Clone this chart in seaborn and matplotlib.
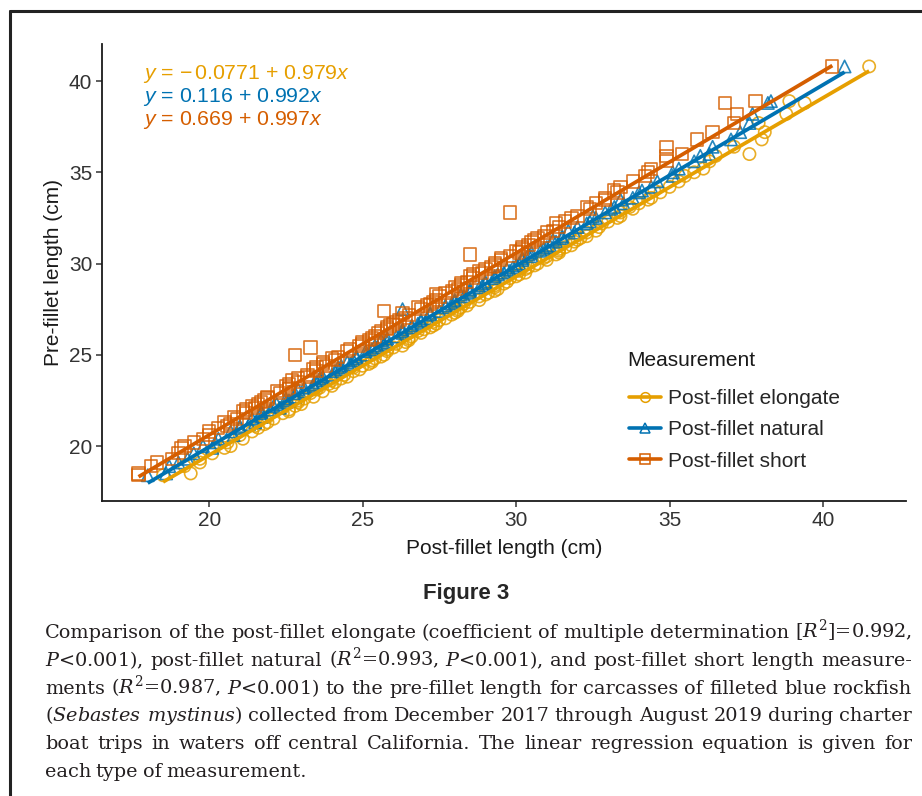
import matplotlib
matplotlib.use("Agg")
import matplotlib.pyplot as plt
import seaborn as sns
import numpy as np
from matplotlib.lines import Line2D

# pre-fillet length of each fish (cm) and its three post-fillet measurements
pre_fillet = [
    18.4, 18.5, 18.9, 19.3, 19.6, 19.9, 20.2, 20.4, 20.6, 20.8,
    21.0, 21.1, 21.3, 21.5, 21.6, 21.8, 22.0, 22.1, 22.3, 22.4,
    22.6, 22.7, 22.9, 23.0, 23.2, 23.3, 23.5, 23.6, 23.8, 23.9,
    24.1, 24.2, 24.4, 24.5, 24.7, 24.9, 25.0, 25.2, 25.4, 25.5,
    25.7, 25.9, 26.0, 26.2, 26.4, 26.5, 26.7, 26.9, 27.0, 27.2,
    27.4, 27.5, 27.7, 27.9, 28.0, 28.2, 28.4, 28.5, 28.7, 28.9,
    29.0, 29.2, 29.4, 29.5, 29.7, 29.9, 30.0, 30.2, 30.4, 30.5,
    30.7, 30.9, 31.0, 31.2, 31.5, 31.7, 32.0, 32.3, 32.5, 32.8,
    33.0, 33.3, 33.6, 33.9, 34.2, 34.5, 34.8, 35.2, 35.6, 36.0,
    36.4, 36.8, 37.2, 37.7, 38.2, 38.8, 38.9, 40.8,
    21.2, 21.9, 22.5, 23.1, 23.7, 24.3, 24.8, 25.3, 25.8, 26.3,
    26.8, 27.3, 27.8, 28.3, 28.8, 29.3, 29.8, 30.3, 30.8, 31.3,
    31.8, 32.2, 32.6, 33.1, 33.5, 34.0, 22.2, 23.4, 24.6, 25.6,
    26.6, 27.6, 28.6, 29.6, 30.6, 31.4, 20.0, 19.1, 35.0, 35.9,
]
post_elongate = [
    18.5, 19.4, 19.2, 19.7, 20.1, 20.5, 20.6, 21.1, 21.0, 21.4,
    21.6, 21.5, 21.9, 22.1, 21.9, 22.4, 22.6, 22.4, 23.0, 22.9,
    23.1, 23.4, 23.3, 23.7, 23.6, 24.0, 24.1, 24.0, 24.5, 24.4,
    24.7, 24.9, 25.0, 25.2, 25.3, 25.6, 25.7, 25.8, 26.0, 26.3,
    26.4, 26.5, 26.6, 26.9, 27.0, 27.2, 27.4, 27.5, 27.7, 27.9,
    28.1, 28.1, 28.4, 28.5, 28.8, 28.8, 29.1, 29.3, 29.3, 29.6,
    29.7, 29.8, 30.1, 30.3, 30.3, 30.6, 30.7, 31.0, 31.0, 31.3,
    31.4, 31.6, 31.8, 31.9, 32.3, 32.3, 32.7, 33.0, 33.3, 33.4,
    33.8, 34.0, 34.4, 34.7, 35.0, 35.3, 35.5, 36.1, 36.3, 37.6,
    37.1, 38.0, 38.1, 37.9, 38.8, 39.4, 38.9, 41.5,
    21.8, 22.6, 22.9, 23.5, 24.3, 24.7, 25.4, 25.8, 26.5, 26.8,
    27.3, 28.0, 28.3, 29.0, 29.3, 30.0, 30.4, 30.9, 31.4, 32.0,
    32.6, 32.8, 33.4, 33.7, 34.3, 34.5, 22.8, 23.9, 25.3, 26.1,
    27.3, 28.2, 29.4, 30.1, 31.4, 32.1, 20.7, 19.7, 35.8, 36.5,
]
post_natural = [
    18.0, 18.6, 18.7, 19.3, 19.5, 20.1, 20.2, 20.3, 20.8, 20.7,
    21.0, 21.0, 21.5, 21.4, 21.7, 21.7, 22.0, 22.3, 22.2, 22.5,
    22.5, 22.8, 22.8, 23.1, 23.1, 23.4, 23.5, 23.7, 23.7, 24.0,
    24.1, 24.3, 24.3, 24.6, 24.7, 24.8, 25.1, 25.1, 25.5, 25.4,
    25.8, 25.8, 26.1, 26.3, 26.3, 26.6, 26.8, 26.9, 27.1, 27.2,
    27.5, 26.3, 27.7, 28.0, 28.0, 28.3, 28.5, 28.5, 28.8, 29.0,
    29.0, 29.3, 29.4, 29.6, 29.7, 30.0, 30.1, 30.2, 30.5, 30.4,
    30.8, 31.0, 31.1, 31.3, 31.5, 31.9, 32.0, 32.4, 32.6, 32.9,
    33.1, 33.5, 33.8, 34.0, 34.4, 34.6, 35.1, 35.3, 35.8, 36.3,
    36.4, 37.0, 37.3, 37.6, 37.7, 38.2, 38.3, 40.7,
    21.3, 21.7, 22.6, 22.9, 23.6, 24.2, 24.8, 25.3, 25.6, 26.3,
    26.9, 27.2, 27.9, 28.2, 28.9, 29.3, 29.9, 30.2, 30.9, 31.2,
    31.7, 32.3, 32.5, 33.2, 33.4, 34.1, 22.1, 23.4, 24.5, 25.7,
    26.6, 27.7, 28.5, 29.8, 30.5, 31.5, 19.8, 19.0, 35.1, 36.0,
]
post_short = [
    17.7, 17.7, 18.1, 18.8, 19.0, 19.1, 19.5, 19.8, 20.0, 20.0,
    20.3, 20.6, 20.5, 20.9, 20.8, 21.2, 21.2, 21.5, 21.6, 21.7,
    21.9, 21.9, 22.3, 22.2, 22.6, 22.5, 22.9, 22.7, 23.2, 23.2,
    23.5, 23.4, 23.8, 23.7, 24.1, 24.2, 22.8, 24.5, 23.3, 24.9,
    25.0, 25.3, 25.4, 25.5, 25.8, 25.8, 26.0, 26.2, 26.4, 26.5,
    25.7, 26.9, 27.1, 27.3, 27.4, 27.5, 27.7, 27.9, 28.0, 28.2,
    28.4, 28.6, 28.6, 28.9, 29.0, 29.3, 29.3, 29.5, 29.8, 28.5,
    30.0, 30.2, 30.4, 30.5, 30.9, 31.0, 31.4, 31.6, 31.8, 29.8,
    32.4, 32.6, 32.9, 33.3, 33.4, 33.8, 34.2, 34.4, 34.9, 35.4,
    34.9, 35.9, 36.4, 37.1, 37.2, 36.8, 37.8, 40.3,
    20.7, 21.1, 21.8, 22.6, 22.9, 23.5, 24.0, 24.6, 25.2, 25.6,
    26.1, 26.3, 27.2, 27.4, 28.2, 28.5, 29.2, 29.5, 30.2, 30.6,
    31.2, 31.3, 32.0, 32.3, 32.9, 33.2, 21.4, 22.6, 23.7, 25.0,
    25.9, 26.8, 28.1, 28.8, 30.1, 30.7, 19.2, 18.3, 34.3, 34.9,
]

series_names = ["Post-fillet elongate", "Post-fillet natural", "Post-fillet short"]
series_colors = ["#E69F00", "#0072B2", "#D55E00"]
series_markers = ["o", "^", "s"]
intercepts = [-0.0771, 0.116, 0.669]
slopes = [0.979, 0.992, 0.997]
eq_labels = [r"$y$ = $-\,$0.0771 + 0.979$x$",
             r"$y$ = 0.116 + 0.992$x$",
             r"$y$ = 0.669 + 0.997$x$"]

caption_lines = [
    r"Comparison of the post-fillet elongate (coefficient of multiple determination [$R^2$]=0.992,",
    r"$P$<0.001), post-fillet natural ($R^2$=0.993, $P$<0.001), and post-fillet short length measure-",
    r"ments ($R^2$=0.987, $P$<0.001) to the pre-fillet length for carcasses of filleted blue rockfish",
    r"($\mathit{Sebastes}$ $\mathit{mystinus}$) collected from December 2017 through August 2019 during charter",
    r"boat trips in waters off central California. The linear regression equation is given for",
    r"each type of measurement.",
]

sns.set_theme(style="ticks")
plt.rcParams["font.family"] = ["Liberation Sans", "DejaVu Sans"]
plt.rcParams["mathtext.fontset"] = "custom"
plt.rcParams["mathtext.rm"] = "Liberation Sans"
plt.rcParams["mathtext.it"] = "Liberation Sans:italic"

W, H = 922, 796
fig = plt.figure(figsize=(W / 100, H / 100), dpi=100)
ax = fig.add_axes([102 / W, 1 - 501 / H, 804 / W, 457 / H])

xs_all = [post_elongate, post_natural, post_short]
for xs, name, col, mk in zip(xs_all, series_names, series_colors, series_markers):
    sns.scatterplot(x=xs, y=pre_fillet, marker=mk, s=78, facecolors="none",
                    edgecolor=col, linewidth=1.2, alpha=0.85, ax=ax, zorder=2)

for xs, col, b0, b1 in zip(xs_all, series_colors, intercepts, slopes):
    xr = np.array([min(xs), max(xs)])
    ax.plot(xr, b0 + b1 * xr, color=col, lw=2.7, solid_capstyle="butt", zorder=3)

ax.set_xlim(16.51, 42.70)
ax.set_ylim(16.99, 42.03)
ax.set_xticks([20, 25, 30, 35, 40])
ax.set_yticks([20, 25, 30, 35, 40])
ax.set_xlabel("Post-fillet length (cm)", fontsize=15, color="#1a1a1a", labelpad=7)
ax.set_ylabel("Pre-fillet length (cm)", fontsize=15, color="#1a1a1a", labelpad=4)
ax.tick_params(labelsize=15, colors="#333333", length=4, width=1.1, pad=3)
sns.despine(ax=ax)
for side in ["left", "bottom"]:
    ax.spines[side].set_linewidth(1.3)
    ax.spines[side].set_color("#1a1a1a")

for i, (lab, col) in enumerate(zip(eq_labels, series_colors)):
    ax.text(0.051, 0.934 - i * 0.0503, lab, color=col, fontsize=15.3,
            transform=ax.transAxes, va="center", ha="left")

# legend: title placed on its own, entries below it
ax.text((627 - 102) / 804, (501 - 361) / 457, "Measurement", fontsize=15,
        color="#1a1a1a", transform=ax.transAxes, va="center", ha="left")
handles = [Line2D([], [], color=c, lw=2.6, marker=m, markersize=7,
                  markerfacecolor="none", markeredgecolor=c, markeredgewidth=1.1)
           for c, m in zip(series_colors, series_markers)]
leg = ax.legend(handles, series_names, loc="upper left",
                bbox_to_anchor=(0.656, 0.245), frameon=False, fontsize=15,
                handlelength=1.5, handletextpad=0.35,
                labelspacing=0.59, borderaxespad=0, borderpad=0)

# figure frame (left and top rules)
fig.add_artist(Line2D([10 / W, 10 / W], [0, 1 - 11 / H], transform=fig.transFigure,
                      color="#222222", lw=2.2))
fig.add_artist(Line2D([10 / W, 1], [1 - 11 / H, 1 - 11 / H], transform=fig.transFigure,
                      color="#222222", lw=2.2))

fig.text(466 / W, 1 - 594 / H, "Figure 3", fontsize=16, fontweight="bold",
         ha="center", va="center", family=["Liberation Sans"])

# justified caption
renderer = fig.canvas.get_renderer()
x0, x1 = 45, 912
cap_kw = dict(fontsize=13.9, family=["DejaVu Serif"], math_fontfamily="dejavuserif",
              color="#231f20", va="baseline", ha="left")
space_w = 4.5
for k, line in enumerate(caption_lines):
    yb = 1 - (638 + k * 27.8) / H
    words = line.split(" ")
    arts = [fig.text(0, yb, w, **cap_kw) for w in words]
    widths = [a.get_window_extent(renderer).width for a in arts]
    if k < len(caption_lines) - 1:
        gap = (x1 - x0 - sum(widths)) / (len(words) - 1)
    else:
        gap = space_w
    x = x0
    for a, w in zip(arts, widths):
        a.set_x(x / W)
        x += w + gap

fig.savefig("out.png", dpi=100)
